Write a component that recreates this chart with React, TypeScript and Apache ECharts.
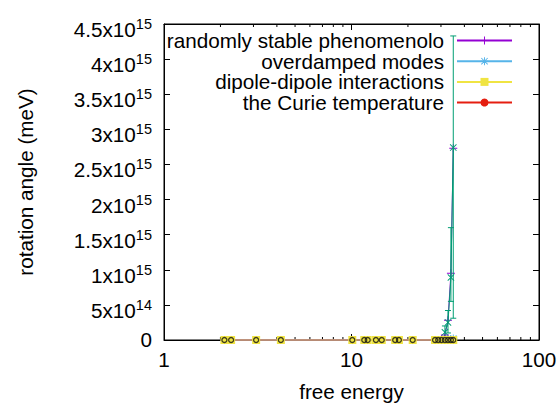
import React, { useEffect, useRef } from 'react';
import * as echarts from 'echarts';

// ---- data ----
const energy = [2.1, 2.28, 3.1, 4.2, 10.1, 11.7, 12.2, 13.5, 14.5, 17.1, 17.9, 21.2, 27.9, 29.0, 30.2, 31.5, 32.7, 33.9, 34.9];
const phenomenolo = [0, 0, 0, 0, 0, 0, 0, 0, 0, 0, 0, 0, 0, 0, 0.01e15, 0.07e15, 0.28e15, 0.95e15, 2.73e15];
const overdamped = [0, 0, 0, 0, 0, 0, 0, 0, 0, 0, 0, 0, 0, 0, 0, 0.005e15, 0.01e15, 0.01e15, 0.02e15];
const dipole = [0, 0, 0, 0, 0, 0, 0, 0, 0, 0, 0, 0, 0, 0, 0, 0, 0, 0, 0];
const curie = [0, 0, 0, 0, 0, 0, 0, 0, 0, 0, 0, 0, 0, 0, 0, 0, 0, 0, 0];
const rings = [0, 0, 0, 0, 0, 0, 0, 0, 0, 0, 0, 0, 0, 0, 0, 0, 0, 0, 0];

const errEnergy = [31.5, 32.7, 33.9, 34.9];
const errMid = [0.11e15, 0.25e15, 0.89e15, 2.74e15];
const errLow = [0.03e15, 0.1e15, 0.55e15, 0.31e15];
const errHigh = [0.2e15, 0.42e15, 1.6e15, 4.33e15];

const xMinorTicks = [2, 3, 4, 5, 6, 7, 8, 9, 20, 30, 40, 50, 60, 70, 80, 90];
const xMin = 1;
const xMax = 100;
const yMin = 0;
const yMax = 4.5e15;
const yStep = 0.5e15;

const names = ['randomly stable phenomenolo', 'overdamped modes', 'dipole-dipole interactions', 'the Curie temperature'];

const PURPLE = '#9400d3';
const LBLUE = '#56b4e9';
const YELLOW = '#f0e442';
const RED = '#e51e10';
const GREEN = '#009e73';
const FONT = 'Liberation Sans';
const FS = 20.7;

const PLUS = 'path://M4.4,0H5.6V4.4H10V5.6H5.6V10H4.4V5.6H0V4.4H4.4Z';
const CROSS = 'path://M0.6,1.4L1.4,0.6L9.4,8.6L8.6,9.4Z M8.6,0.6L9.4,1.4L1.4,9.4L0.6,8.6Z';
const STAR = 'path://M4.4,0H5.6V4.4H10V5.6H5.6V10H4.4V5.6H0V4.4H4.4Z M0.6,1.4L1.4,0.6L9.4,8.6L8.6,9.4Z M8.6,0.6L9.4,1.4L1.4,9.4L0.6,8.6Z';

const fmtY = (v: number) => {
  if (v === 0) return '{b|0}';
  const e = Math.floor(Math.log10(v) + 1e-9);
  const m = +(v / Math.pow(10, e)).toFixed(2);
  return `{b|${m}x10}{s|${e}}`;
};

const pairs = (ys: number[]) => energy.map((x, i) => [x, ys[i]]);

export default function App() {
  const ref = useRef<HTMLDivElement>(null);
  useEffect(() => {
    if (!ref.current) return;
    const chart = echarts.init(ref.current, undefined, { renderer: 'svg' });
    const legendRows = [30, 50.7, 71.4, 92];
    const legends = names.map((n, i) => ({
      data: [n],
      right: 46,
      top: legendRows[i],
      padding: 0,
      align: 'right',
      itemWidth: 55,
      itemHeight: 10,
      selectedMode: false,
      textStyle: { fontSize: FS, lineHeight: 18, fontFamily: FONT, color: '#000', padding: [0, 8, 0, 0] },
    }));
    const lineSeries = (name: string, ys: number[], color: string, symbol: string, size: number, z: number) => ({
      name,
      type: 'line',
      data: pairs(ys),
      symbol,
      symbolSize: size,
      showSymbol: true,
      color,
      lineStyle: { width: 1, color },
      itemStyle: { color },
      z,
      clip: false,
    });
    chart.setOption({
      animation: false,
      backgroundColor: '#fff',
      textStyle: { fontFamily: FONT },
      legend: legends,
      grid: { left: 164, right: 20, top: 24, bottom: 63, show: true, borderColor: '#000', borderWidth: 1, outerBoundsMode: 'none' },
      xAxis: [
        {
          type: 'log', logBase: 10, min: xMin, max: xMax, position: 'bottom',
          axisLine: { show: true, onZero: false, lineStyle: { color: '#000', width: 1 } },
          axisTick: { show: true, inside: true, length: 6, lineStyle: { color: '#000' } },
          axisLabel: { fontSize: FS, color: '#000', fontFamily: FONT, margin: 9 },
          splitLine: { show: false },
          name: 'free energy', nameLocation: 'middle', nameGap: 41,
          nameTextStyle: { fontSize: FS, color: '#000', fontFamily: FONT },
        },
        {
          type: 'log', logBase: 10, min: xMin, max: xMax, position: 'top',
          axisLine: { show: true, onZero: false, lineStyle: { color: '#000', width: 1 } },
          axisTick: { show: true, inside: true, length: 6, lineStyle: { color: '#000' } },
          axisLabel: { show: false },
          splitLine: { show: false },
        },
      ],
      yAxis: [
        {
          type: 'value', min: yMin, max: yMax, interval: yStep, position: 'left',
          axisLine: { show: true, onZero: false, lineStyle: { color: '#000', width: 1 } },
          axisTick: { show: true, inside: true, length: 6, lineStyle: { color: '#000' } },
          axisLabel: {
            margin: 12, color: '#000', formatter: fmtY,
            rich: {
              b: { fontSize: FS, fontFamily: FONT, color: '#000', lineHeight: 20, verticalAlign: 'bottom' },
              s: { fontSize: 14.5, fontFamily: FONT, color: '#000', lineHeight: 32, verticalAlign: 'middle' },
            },
          },
          splitLine: { show: false },
          name: 'rotation angle (meV)', nameLocation: 'middle', nameGap: 128, nameRotate: 90,
          nameTextStyle: { fontSize: FS, color: '#000', fontFamily: FONT },
        },
        {
          type: 'value', min: yMin, max: yMax, interval: yStep, position: 'right',
          axisLine: { show: true, onZero: false, lineStyle: { color: '#000', width: 1 } },
          axisTick: { show: true, inside: true, length: 6, lineStyle: { color: '#000' } },
          axisLabel: { show: false },
          splitLine: { show: false },
        },
      ],
      series: [
        {
          type: 'custom', silent: true, clip: false, z: 1,
          data: xMinorTicks.map((v) => [v, yMin]),
          encode: { x: 0, y: 1 },
          renderItem: (_p: any, api: any) => {
            const x = api.value(0);
            const b = api.coord([x, yMin]);
            const t = api.coord([x, yMax]);
            return {
              type: 'group',
              children: [
                { type: 'line', shape: { x1: b[0], y1: b[1], x2: b[0], y2: b[1] - 3 }, style: { stroke: '#000', lineWidth: 1 } },
                { type: 'line', shape: { x1: t[0], y1: t[1], x2: t[0], y2: t[1] + 3 }, style: { stroke: '#000', lineWidth: 1 } },
              ],
            };
          },
        },
        lineSeries(names[3], curie, RED, 'circle', 6, 2),
        lineSeries(names[1], overdamped, LBLUE, STAR, 8, 2),
        lineSeries(names[0], phenomenolo, PURPLE, PLUS, 8, 3),
        {
          type: 'custom', clip: false, z: 4,
          data: errEnergy.map((x, i) => [x, errLow[i], errHigh[i]]),
          encode: { x: 0, y: [1, 2] },
          renderItem: (_p: any, api: any) => {
            const x = api.value(0);
            const lo = api.coord([x, api.value(1)]);
            const hi = api.coord([x, api.value(2)]);
            const w = 3;
            const st = { stroke: GREEN, lineWidth: 1 };
            return {
              type: 'group',
              children: [
                { type: 'line', shape: { x1: lo[0], y1: lo[1], x2: hi[0], y2: hi[1] }, style: st },
                { type: 'line', shape: { x1: lo[0] - w, y1: lo[1], x2: lo[0] + w, y2: lo[1] }, style: st },
                { type: 'line', shape: { x1: hi[0] - w, y1: hi[1], x2: hi[0] + w, y2: hi[1] }, style: st },
              ],
            };
          },
        },
        {
          name: 'notitle-green',
          type: 'line',
          data: errEnergy.map((x, i) => [x, errMid[i]]),
          symbol: CROSS, symbolSize: 7, color: GREEN,
          lineStyle: { width: 1, color: GREEN }, itemStyle: { color: GREEN }, z: 5, clip: false,
        },
        lineSeries(names[2], dipole, YELLOW, 'rect', 8, 6),
        {
          name: 'notitle-rings',
          type: 'scatter',
          data: pairs(rings),
          symbol: 'circle', symbolSize: 5,
          itemStyle: { color: 'none', borderColor: '#111', borderWidth: 1.3 },
          z: 7, clip: false,
        },
      ],
    });
    return () => chart.dispose();
  }, []);
  return <div ref={ref} style={{ width: 559, height: 403, position: 'absolute', left: 0, top: 0 }} />;
}
